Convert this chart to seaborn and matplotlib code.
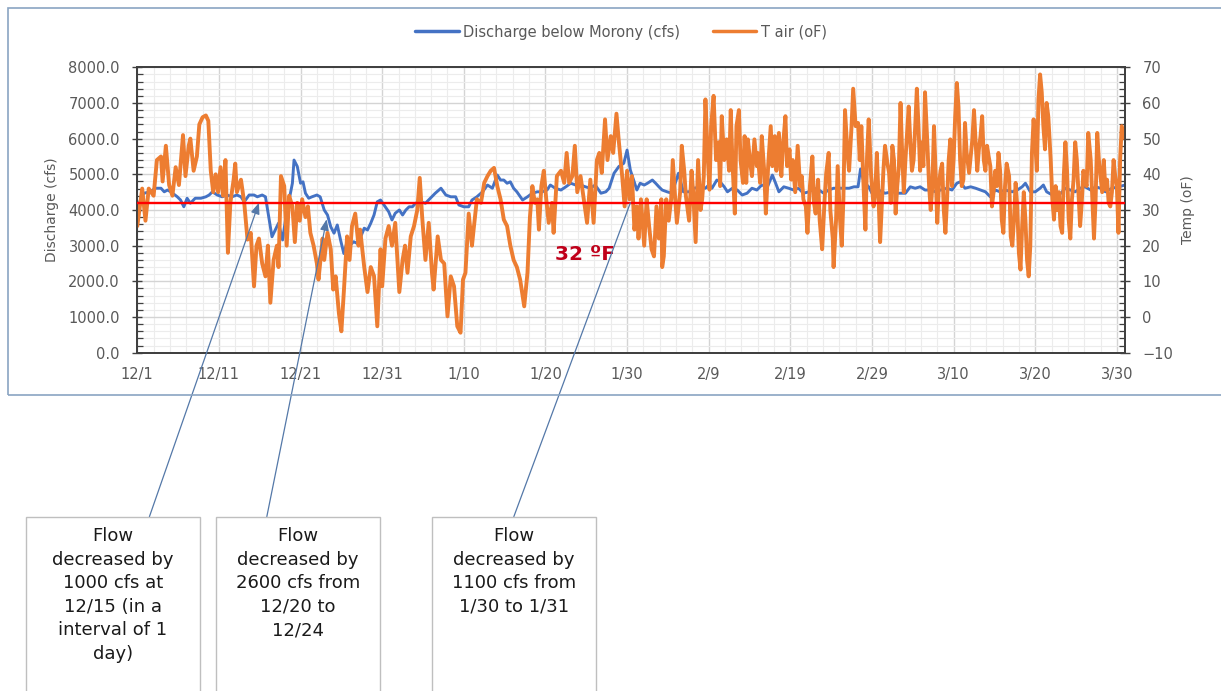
import matplotlib
matplotlib.use("Agg")
import matplotlib.pyplot as plt
from matplotlib.patches import Rectangle
from matplotlib.lines import Line2D
from matplotlib.ticker import MultipleLocator, FixedLocator, FuncFormatter
import seaborn as sns

# ---------------- data ----------------
x_tick_days = [0, 10, 20, 30, 40, 50, 60, 70, 80, 90, 100, 110, 120]
x_tick_labels = ['12/1', '12/11', '12/21', '12/31', '1/10', '1/20', '1/30',
                 '2/9', '2/19', '2/29', '3/10', '3/20', '3/30']

# Discharge below Morony (cfs); day offset from 12/1
q_day = [0.0, 0.8, 1.6, 2.2, 2.9, 3.3, 3.7, 4.1, 4.9, 5.3, 5.7, 6.1, 6.5, 7.1, 7.8, 8.4, 8.8, 9.2, 9.8, 10.4,
         11.0, 11.6, 12.2, 12.7, 13.1, 13.7, 14.3, 14.7, 15.3, 15.7, 16.1, 16.5, 16.9, 17.3, 17.8, 18.2, 18.6, 19.0, 19.2, 19.6,
         20.0, 20.3, 20.6, 21.0, 21.4, 22.0, 22.4, 22.9, 23.3, 23.7, 24.1, 24.5, 24.9, 25.3, 25.7, 26.1, 26.5, 26.9, 27.3, 27.8,
         28.2, 28.6, 29.0, 29.4, 29.8,
         30.8, 31.2, 31.6, 32.1, 32.5, 32.9, 33.3, 33.7, 34.1, 34.7, 35.3, 35.9, 36.5, 37.2, 37.8, 38.4, 39.0, 39.4, 40.0, 40.6,
         41.0, 41.6, 42.3, 42.9, 43.5, 44.1, 44.5, 44.9, 45.3, 45.7, 46.1, 46.5, 47.2, 47.8, 48.4, 49.0, 49.6, 50.2, 50.6, 51.2,
         51.9, 52.5, 53.1, 53.7, 54.3, 54.9, 55.5, 56.1, 56.8, 57.4, 57.8, 58.4, 59.0, 59.6,
         60.0, 60.4, 60.8, 61.2, 61.6, 62.1, 62.5, 63.1, 63.5, 63.9, 64.3, 64.9, 65.5, 66.3, 66.9, 67.6, 68.2, 69.0, 69.6, 70.0,
         70.4, 71.0, 71.4, 71.9, 72.3, 72.9, 73.5, 74.1, 74.7, 75.3, 75.9, 76.5, 77.2, 77.8, 78.2, 78.6, 79.2, 79.8, 80.4, 81.0,
         81.6, 82.3, 82.9, 83.5, 84.1, 84.7, 85.3, 85.9, 86.5, 87.2, 87.8, 88.3, 88.6, 89.0, 89.6,
         90.0, 90.8, 91.6, 92.5, 93.3, 94.1, 94.7, 95.3, 95.9, 96.5, 97.2, 97.8, 98.4, 99.2, 99.8, 100.4, 100.8, 101.4, 102.1, 102.7,
         103.3, 103.9, 104.5, 105.1, 105.7, 106.3, 107.2, 107.8, 108.4, 108.8, 109.4, 110.0, 110.6, 111.0, 111.4, 112.1, 112.7, 113.3, 113.7, 114.3,
         114.9, 115.5, 116.1, 116.8, 117.4, 118.0, 118.6, 119.4, 120.2, 121.0]
q_cfs = [4090, 4470, 4510, 4610, 4610, 4510, 4560, 4510, 4370, 4280, 4090, 4330, 4190, 4330, 4330, 4370, 4420, 4510, 4420, 4370,
         4420, 4370, 4420, 4370, 4230, 4420, 4420, 4370, 4420, 4370, 3810, 3250, 3440, 3630, 3160, 3810, 4280, 4750, 5400, 5220,
         4750, 4790, 4470, 4330, 4370, 4420, 4370, 4000, 3860, 3530, 3350, 3580, 3160, 2780, 3110, 3020, 3110, 3070, 3210, 3490,
         3440, 3630, 3860, 4230, 4280,
         3950, 3720, 3910, 4000, 3860, 4000, 4090, 4090, 4190, 4230, 4190, 4330, 4470, 4610, 4420, 4370, 4370, 4140, 4090, 4090,
         4280, 4370, 4510, 4700, 4610, 4980, 4840, 4840, 4750, 4790, 4610, 4510, 4280, 4370, 4470, 4510, 4510, 4560, 4700, 4610,
         4560, 4650, 4750, 4700, 4700, 4650, 4610, 4700, 4470, 4510, 4610, 5030, 5220, 5310,
         5680, 5120, 4840, 4560, 4750, 4700, 4750, 4840, 4750, 4650, 4560, 4510, 4470, 5030, 4510, 4510, 4610, 4650, 4610, 4700,
         4610, 4840, 4790, 4650, 4510, 4610, 4560, 4420, 4470, 4610, 4560, 4700, 4650, 4980, 4750, 4510, 4650, 4610, 4560, 4610,
         4470, 4510, 4610, 4560, 4470, 4560, 4610, 4610, 4610, 4610, 4650, 4650, 5150, 4790, 4650,
         4470, 4560, 4470, 4510, 4470, 4470, 4650, 4610, 4650, 4560, 4560, 4510, 4560, 4610, 4560, 4750, 4790, 4610, 4650, 4610,
         4560, 4510, 4370, 4560, 4510, 4560, 4510, 4560, 4650, 4750, 4510, 4510, 4610, 4700, 4510, 4420, 4370, 4510, 4610, 4560,
         4510, 4610, 4650, 4560, 4650, 4610, 4510, 4610, 4650, 4700]

# T air (oF); day offset from 12/1
t_day = [0.0, 0.6, 1.0, 1.4, 2.0, 2.4, 2.9, 3.1, 3.5, 3.9, 4.3, 4.7, 5.1, 5.6, 5.9, 6.3, 6.5, 6.9, 7.3, 7.6,
         8.0, 8.4, 8.7, 9.0, 9.3, 9.6, 9.9, 10.2, 10.5, 10.8, 11.1, 11.4, 11.8, 12.0, 12.2, 12.7, 13.1, 13.5, 13.9, 14.3,
         14.6, 14.9, 15.3, 15.7, 16.0, 16.3, 16.7, 17.1, 17.3, 17.6, 18.0, 18.3, 18.6, 19.0, 19.3, 19.6, 19.9, 20.2, 20.6, 20.9,
         21.2, 21.6, 22.0, 22.2, 22.7, 22.9, 23.3, 23.7, 24.0, 24.3, 24.7, 25.0, 25.3, 25.7, 26.0, 26.3, 26.7, 27.1, 27.3, 27.8,
         28.2, 28.6, 29.0, 29.4,
         29.8, 30.0, 30.4, 30.8, 31.2, 31.6, 32.1, 32.5, 32.8, 33.1, 33.5, 33.9, 34.3, 34.6, 34.9, 35.3, 35.7, 36.1, 36.3, 36.8,
         37.2, 37.6, 38.0, 38.4, 38.8, 39.2, 39.6, 39.9, 40.2, 40.6, 41.0, 41.2, 41.6, 42.1, 42.5, 42.9, 43.3, 43.7, 44.1, 44.5,
         44.9, 45.3, 45.7, 46.1, 46.5, 46.9, 47.4, 47.8, 48.1, 48.4, 48.7, 49.0, 49.2, 49.5, 49.8, 50.1, 50.4, 50.8, 51.0, 51.4,
         51.9, 52.3, 52.6, 52.9, 53.3, 53.6, 53.9, 54.3, 54.7, 55.1, 55.5, 55.9, 56.3, 56.6, 56.9, 57.3, 57.6, 58.0, 58.3, 58.7,
         59.0,
         59.4, 59.7, 60.0, 60.3, 60.6, 60.9, 61.2, 61.4, 61.7, 62.1, 62.4, 62.7, 63.0, 63.3, 63.6, 63.9, 64.2, 64.3, 64.5, 64.8,
         65.1, 65.4, 65.6, 65.9, 66.1, 66.5, 66.7, 67.0, 67.2, 67.6, 67.9, 68.1, 68.4, 68.7, 69.0, 69.2, 69.4, 69.6, 69.9, 70.1,
         70.3, 70.6, 70.9, 71.2, 71.4, 71.6, 71.9, 72.2, 72.5, 72.7, 72.9, 73.2, 73.4, 73.7, 73.9, 74.2, 74.4, 74.6, 74.8, 75.1,
         75.3, 75.6, 75.9, 76.0, 76.3, 76.5, 76.8, 77.0, 77.3, 77.6, 77.8, 78.1, 78.3, 78.6, 78.9, 79.1, 79.4, 79.6, 79.9, 80.1,
         80.3, 80.6, 80.9, 81.2, 81.4, 81.6, 81.9, 82.1, 82.4, 82.7, 82.9, 83.1, 83.4, 83.6, 83.9, 84.2, 84.4, 84.7, 84.9, 85.2,
         85.3, 85.6, 85.8, 86.1, 86.3, 86.5, 86.7, 87.0, 87.2, 87.5, 87.7, 88.0, 88.3, 88.5, 88.7, 89.0, 89.2, 89.4, 89.6, 89.9,
         90.2, 90.4, 90.6, 90.8, 91.0, 91.2, 91.4, 91.6, 91.9, 92.1, 92.3, 92.5, 92.7, 92.9, 93.1, 93.3, 93.5, 93.7, 93.9, 94.1,
         94.3, 94.5, 94.7, 94.9, 95.1, 95.3, 95.5, 95.7, 95.9, 96.1, 96.3, 96.5, 96.8, 97.0, 97.2, 97.4, 97.6, 97.8, 98.0, 98.2,
         98.4, 98.6, 98.8, 99.0, 99.2, 99.4, 99.6, 99.8, 100.0, 100.2, 100.4, 100.6, 100.8, 101.0, 101.2, 101.4, 101.6, 101.9, 102.1, 102.3,
         102.5, 102.7, 102.9, 103.1, 103.3, 103.5, 103.7, 103.9, 104.1, 104.3, 104.5, 104.7, 104.9, 105.1, 105.3, 105.5, 105.7, 105.9, 106.1, 106.3,
         106.5, 106.8, 107.0, 107.2, 107.4, 107.6, 107.8, 108.0, 108.2, 108.4, 108.6, 108.8, 109.0, 109.2, 109.4, 109.6, 109.8, 110.0, 110.2, 110.4,
         110.6, 110.8, 111.0, 111.2, 111.4, 111.6, 111.9, 112.1, 112.3, 112.5, 112.7, 112.9, 113.1, 113.3, 113.5, 113.7, 113.9, 114.1, 114.3, 114.5,
         114.7, 114.9, 115.1, 115.3, 115.5, 115.7, 115.9, 116.1, 116.3, 116.5, 116.8, 117.0, 117.2, 117.4, 117.6, 117.8, 118.0, 118.2, 118.4, 118.6,
         118.8, 119.0, 119.2, 119.4, 119.6, 119.8, 120.0, 120.2, 120.4, 120.6, 121.0]
t_air = [25.5, 36, 27, 36, 34, 44, 45, 38, 48, 37, 34, 42, 37, 51, 39.5, 48, 50, 41, 45, 54,
         56, 56.5, 55, 41, 35, 40, 35, 42, 34, 44, 18, 32, 38.5, 43, 35, 38.5, 32, 21.7, 23.6, 8.6,
         20, 22, 15, 11.4, 20, 4, 16, 20, 14, 39.5, 36.7, 20, 34, 31, 21, 32, 27, 33, 28, 31,
         23.6, 20, 15, 10.5, 22, 16, 23.6, 19, 7.7, 11.4, 1, -4, 7, 22.6, 16, 25.5, 29, 20, 24.5, 14,
         7, 14, 11.5, -2.6,
         19, 8.6, 22, 25.5, 20, 26.4, 7, 16, 20, 12.4, 22.6, 25.5, 30, 39, 28, 16, 26.4, 12.4, 7.7, 22.6,
         16, 15, 0.2, 11.4, 8.6, -2.6, -4.4, 10.5, 12.4, 29, 20, 24.5, 33, 32, 37.6, 39.5, 41, 41.8, 36.7, 33,
         27.3, 25.5, 20, 16, 14, 10.5, 3, 12.4, 28, 36.7, 32, 33, 24.5, 36.7, 41, 33, 26.4, 32, 23.6, 39.5,
         41, 37.6, 46, 37.6, 39.5, 48, 35, 39.5, 33, 26.4, 38.5, 26.4, 44, 46, 40.4, 55.4, 44, 50.7, 46, 57,
         49,
         39.5, 31, 41, 33, 39.5, 24.5, 31, 22, 33, 20, 33, 25.5, 19, 17, 31, 22, 33, 14, 17, 33,
         27, 33, 44, 33, 26.4, 35, 48, 41, 34, 27, 41, 35, 21, 44, 30, 33, 39.5, 61, 44, 35.7,
         53.5, 62, 44, 49, 36.7, 56.3, 44, 49.8, 41, 58, 44, 29, 53.5, 58, 44, 37.6, 50.7, 37.6, 49.8, 43,
         39.5, 49.8, 42.3, 46, 37.6, 50.7, 41, 29, 43, 53.5, 42.3, 50.7, 41, 51.6, 39.5, 48, 56.3, 42.3, 47, 38.5,
         44, 35, 48, 36.7, 39.5, 33, 31, 23.6, 36.7, 45, 32, 29, 38.5, 27, 19, 33, 40.4, 46, 30, 22,
         14, 27, 42.3, 27, 20, 33, 58, 46, 41, 53.5, 64, 53.5, 54.4, 44, 53.5, 35, 24.5, 45, 55.4, 39.5,
         31, 35, 46, 34, 21, 31, 41, 48, 43, 40.4, 32, 48, 44, 29, 36.7, 42.3, 60, 46, 35, 44,
         51.6, 59, 49, 41, 44, 53.5, 64, 53.5, 41, 49, 42.3, 63, 48, 36.7, 30, 36.7, 53.5, 40.4, 26.4, 36.7,
         41, 43, 30, 23.6, 33, 44, 49.8, 36.7, 44, 56.3, 65.6, 59, 44, 36.7, 38.5, 54.4, 46, 40.4, 45, 49.8,
         58, 49, 41, 47, 50.7, 56.3, 44, 41, 48, 45, 42.3, 31, 35, 41, 36.7, 46, 41, 27.3, 23.6, 36.7,
         43, 39.5, 22.6, 20, 27.3, 37.6, 31, 18, 13.3, 25.5, 35, 27.3, 16, 11.4, 20, 46, 55.4, 49, 41, 61,
         68, 63, 53.5, 47, 60, 56.3, 44, 33, 27.3, 36.7, 30, 35, 25.5, 23.6, 39.5, 49, 41, 27.3, 22, 33,
         38.5, 49, 44, 35, 25.5, 32, 41, 38.5, 36.7, 51.6, 44, 33, 22, 33, 51.6, 44, 39.5, 35, 44, 35.7,
         38.5, 32, 31, 35, 44, 39.5, 36.7, 23.6, 44, 53.5, 50]

freeze_temp = 32
series_labels = ['Discharge below Morony (cfs)', 'T air (oF)']
annot_texts = ['Flow\ndecreased by\n1000 cfs at\n12/15 (in a\ninterval of 1\nday)',
               'Flow\ndecreased by\n2600 cfs from\n12/20 to\n12/24',
               'Flow\ndecreased by\n1100 cfs from\n1/30 to 1/31']
annot_target_day = [14.9, 23.2, 60.4]
annot_target_q = [4200, 3740, 4200]

assert len(q_day) == len(q_cfs), (len(q_day), len(q_cfs))
assert len(t_day) == len(t_air), (len(t_day), len(t_air))

# ---------------- style ----------------
sns.set_theme(style='white')
plt.rcParams['font.family'] = ['DejaVu Sans']

W, H = 1221, 691
BLUE = '#4472C4'
ORANGE = '#ED7D31'
GRAY_TXT = '#595959'
AX_COL = '#404040'

fig = plt.figure(figsize=(W / 100, H / 100), dpi=100)
fig.patch.set_facecolor('white')


def fig_rect(x0, y0, x1, y1):
    return [x0 / W, 1 - y1 / H, (x1 - x0) / W, (y1 - y0) / H]


ax = fig.add_axes(fig_rect(137.3, 67.3, 1125, 352.7))
ax2 = ax.twinx()

sns.lineplot(x=q_day, y=q_cfs, ax=ax, color=BLUE, linewidth=2.1,
             estimator=None, sort=False, legend=False)
sns.lineplot(x=t_day, y=t_air, ax=ax2, color=ORANGE, linewidth=2.8,
             estimator=None, sort=False, legend=False)
for ln in ax.lines + ax2.lines:
    ln.set_solid_joinstyle('round')

ax2.axhline(freeze_temp, color='#FF0000', linewidth=1.7, zorder=6)

ax.set_xlim(0, 121)
ax.set_ylim(0, 8000)
ax2.set_ylim(-10, 70)

# grid
ax.xaxis.set_major_locator(FixedLocator(x_tick_days))
ax.set_xticklabels(x_tick_labels)
ax.xaxis.set_minor_locator(MultipleLocator(2))
ax.yaxis.set_major_locator(MultipleLocator(1000))
ax.yaxis.set_minor_locator(MultipleLocator(200))
ax.yaxis.set_major_formatter(FuncFormatter(lambda v, p: f'{v:.1f}'))
ax2.yaxis.set_major_locator(MultipleLocator(10))
ax2.yaxis.set_minor_locator(MultipleLocator(2))
ax.grid(which='major', color='#d4d4d4', linewidth=1.0)
ax.grid(which='minor', color='#ececec', linewidth=0.8)
ax.set_axisbelow(True)
ax2.grid(False)

for a in (ax, ax2):
    for s in a.spines.values():
        s.set_visible(True)
        s.set_color(AX_COL)
        s.set_linewidth(1.3)

ax.tick_params(axis='x', which='both', length=0, pad=10, labelsize=10.5, labelcolor=GRAY_TXT)
ax.tick_params(axis='y', which='major', direction='inout', length=7, width=1.0, color=AX_COL,
               pad=9, labelsize=10.5, labelcolor=GRAY_TXT, left=True)
ax.tick_params(axis='y', which='minor', direction='in', length=4, width=0.9, color=AX_COL, left=True)
ax2.tick_params(axis='y', which='major', direction='inout', length=7, width=1.0, color=AX_COL,
                pad=9, labelsize=10.5, labelcolor=GRAY_TXT, right=True)
ax2.tick_params(axis='y', which='minor', direction='in', length=4, width=0.9, color=AX_COL, right=True)

ax.set_xlabel('')
ax.set_ylabel('Discharge (cfs)', fontsize=10, color=GRAY_TXT)
ax.yaxis.set_label_coords((59 - 137.3) / 987.7, 0.5)
ax2.set_ylabel('Temp (oF)', fontsize=10, color=GRAY_TXT)
ax2.yaxis.set_label_coords((1181 - 137.3) / 987.7, 0.5)

ax2.text(54.9, 17.4, '32 \u00baF', color='#C0001A', fontsize=14.5, fontweight='bold',
         ha='center', va='center', zorder=7)

# legend
handles = [Line2D([], [], color=BLUE, linewidth=2.5), Line2D([], [], color=ORANGE, linewidth=2.5)]
fig.legend(handles, series_labels, loc='center', bbox_to_anchor=(621 / W, 1 - 32 / H), ncol=2,
           frameon=False, fontsize=10.5, handlelength=3.0, handletextpad=0.3, columnspacing=2.2,
           labelcolor=GRAY_TXT)

# chart frame
fig.add_artist(Rectangle((8 / W, 1 - 395 / H), (1240 - 8) / W, (395 - 8) / H,
                         transform=fig.transFigure, fill=False, edgecolor='#8aa4c2', linewidth=1.2))

# annotation boxes
box_x = [(26, 200), (215.5, 380), (432, 595.5)]
box_top = 516.7
line_start_x = [149.4, 266.8, 513.8]
for i, (txt, (bx0, bx1)) in enumerate(zip(annot_texts, box_x)):
    fig.add_artist(Rectangle((bx0 / W, 1 - 720 / H), (bx1 - bx0) / W, (720 - box_top) / H,
                             transform=fig.transFigure, fill=False, edgecolor='#bfbfbf', linewidth=1.0))
    fig.text((bx0 + bx1) / 2 / W, 1 - 527 / H, txt, ha='center', va='top', fontsize=13,
             color='#1a1a1a', linespacing=1.4)
    style = '-|>,head_length=0.55,head_width=0.22' if i < 2 else '-'
    ax2.annotate('', xy=(annot_target_day[i], annot_target_q[i]), xycoords=ax.transData,
                 xytext=(line_start_x[i] / W, 1 - box_top / H), textcoords='figure fraction',
                 arrowprops=dict(arrowstyle=style, color='#5478a8', lw=0.9, shrinkA=0, shrinkB=0),
                 annotation_clip=False, zorder=8)

fig.savefig('out.png', dpi=100, facecolor='white')
